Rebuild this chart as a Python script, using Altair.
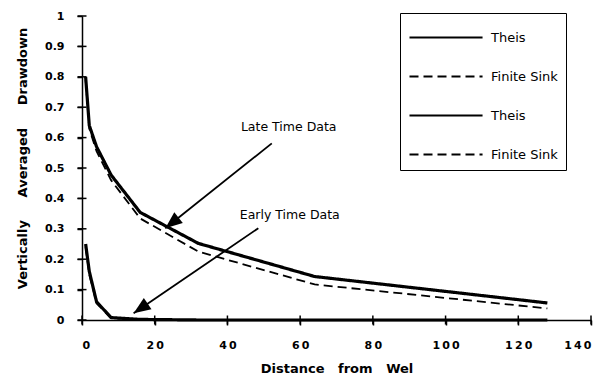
import math
import altair as alt
import pandas as pd

# ---- data ----
distance = [1, 2, 4, 8, 16, 32, 64, 128]
late_theis = [0.80, 0.64, 0.57, 0.477, 0.354, 0.252, 0.143, 0.056]
late_sink = [0.79, 0.63, 0.555, 0.46, 0.334, 0.225, 0.117, 0.038]
early_theis = [0.25, 0.16, 0.06, 0.008, 0.002, 0.0, 0.0, 0.0]
early_sink = [0.24, 0.15, 0.055, 0.006, 0.001, 0.0, 0.0, 0.0]

# legend labels (second pair carries an invisible marker so the entries stay distinct)
series_names = ["Theis", "Finite Sink", "Theis\u200b", "Finite Sink\u200b"]
series_values = [late_theis, late_sink, early_theis, early_sink]

x_ticks = [0, 20, 40, 60, 80, 100, 120, 140]
y_ticks = [0, 0.1, 0.2, 0.3, 0.4, 0.5, 0.6, 0.7, 0.8, 0.9, 1]

ann_labels = ["Late Time Data", "Early Time Data"]
ann_text_x = [43.7, 43.4]
ann_text_y = [0.636, 0.345]
arrow_x_start = [52.2, 48.5]
arrow_y_start = [0.581, 0.302]
arrow_x_end = [22.9, 14.2]
arrow_y_end = [0.302, 0.022]

W, H = 509, 304
X_MAX, Y_MAX = 140, 1

rows = []
for name, vals in zip(series_names, series_values):
    for d, v in zip(distance, vals):
        rows.append({"distance": d, "drawdown": v, "series": name})
lines_df = pd.DataFrame(rows)

ann_df = pd.DataFrame({
    "label": ann_labels,
    "tx": ann_text_x, "ty": ann_text_y,
    "x0": arrow_x_start, "y0": arrow_y_start,
    "x1": arrow_x_end, "y1": arrow_y_end,
})
# arrow head orientation in screen space (clockwise from up)
ann_df["angle"] = [
    (math.degrees(math.atan2((x1 - x0) * W / X_MAX, (y1 - y0) * H / Y_MAX)) + 360) % 360
    for x0, y0, x1, y1 in zip(ann_df.x0, ann_df.y0, ann_df.x1, ann_df.y1)
]

xtick_df = pd.DataFrame({"v": x_ticks, "zero": [0] * len(x_ticks)})
ytick_df = pd.DataFrame({"v": y_ticks, "zero": [0] * len(y_ticks)})

xscale = alt.Scale(domain=[0, X_MAX], nice=False)
yscale = alt.Scale(domain=[0, Y_MAX], nice=False)

x_axis = alt.Axis(
    values=x_ticks, title="Distance\u00a0\u00a0\u00a0from\u00a0\u00a0\u00a0Wel",
    labelExpr="join(split(datum.label, ''), '\u2009')", labelOverlap=False,
    grid=False, tickSize=5, labelPadding=14, domainWidth=1.5, tickWidth=1.5,
    domainColor="black", tickColor="black", labelColor="black", titleColor="black",
    labelFont="DejaVu Sans", labelFontWeight="bold", labelFontSize=11,
    titleFont="DejaVu Sans", titleFontWeight="bold", titleFontSize=13,
    titleX=W / 2, titleY=48, titleBaseline="middle", titleAlign="center",
)
y_axis = alt.Axis(
    values=y_ticks, format="~g", labelOverlap=False,
    title="Vertically\u00a0\u00a0\u00a0\u00a0\u00a0Averaged\u00a0\u00a0\u00a0\u00a0\u00a0Drawdown",
    grid=False, tickSize=5, labelPadding=13, domainWidth=1.5, tickWidth=1.5,
    domainColor="black", tickColor="black", labelColor="black", titleColor="black",
    labelFont="DejaVu Sans", labelFontWeight="bold", labelFontSize=11,
    titleFont="DejaVu Sans", titleFontWeight="bold", titleFontSize=13,
    titleAngle=270, titleX=-60, titleY=142, titleBaseline="middle", titleAlign="center",
)


def X(field):
    return alt.X(field, type="quantitative", scale=xscale, axis=x_axis)


def Y(field):
    return alt.Y(field, type="quantitative", scale=yscale, axis=y_axis)


lines = alt.Chart(lines_df).mark_line(color="black").encode(
    x=X("distance"),
    y=Y("drawdown"),
    strokeDash=alt.StrokeDash(
        "series:N",
        scale=alt.Scale(domain=series_names, range=[[1, 0], [9, 5], [1, 0], [9, 5]]),
        legend=alt.Legend(
            title=None, orient="none", legendX=318, legendY=-3,
            symbolType="M-1,0L3.87,0", symbolSize=900, symbolStrokeWidth=2.2,
            symbolStrokeColor="black", strokeColor="black", padding=8,
            labelFont="DejaVu Sans", labelFontSize=13, labelColor="black",
            labelOffset=50, rowPadding=15, fillColor="white",
        ),
    ),
    strokeWidth=alt.condition(
        "indexof(datum.series, 'Theis') >= 0", alt.value(3.2), alt.value(1.8)
    ),
    detail="series:N",
)

xticks_layer = alt.Chart(xtick_df).mark_tick(
    orient="vertical", size=9, thickness=1.5, color="black", opacity=1
).encode(x=X("v"), y=Y("zero"))
yticks_layer = alt.Chart(ytick_df).mark_tick(
    orient="horizontal", size=9, thickness=1.5, color="black", opacity=1
).encode(x=X("zero"), y=Y("v"))

arrows = alt.Chart(ann_df).mark_rule(color="black", strokeWidth=1.8).encode(
    x=X("x0"), y=Y("y0"), x2="x1:Q", y2="y1:Q",
)
heads = alt.Chart(ann_df).mark_point(
    shape="M0,0L0.4,1L-0.4,1Z", filled=True, color="black", opacity=1, size=1156,
).encode(
    x=X("x1"), y=Y("y1"),
    angle=alt.Angle("angle:Q", scale=None),
)
texts = alt.Chart(ann_df).mark_text(
    align="left", baseline="middle", font="DejaVu Sans", fontSize=12.5, color="black",
).encode(
    x=X("tx"), y=Y("ty"), text="label:N",
)

chart = alt.layer(lines, xticks_layer, yticks_layer, arrows, heads, texts).properties(
    width=W, height=H,
    autosize=alt.AutoSizeParams(type="none"),
    padding={"left": 74, "top": 8, "right": 11, "bottom": 56},
).configure_view(stroke=None)

chart.save("out.html", embed_options={"renderer": "svg", "actions": False})
